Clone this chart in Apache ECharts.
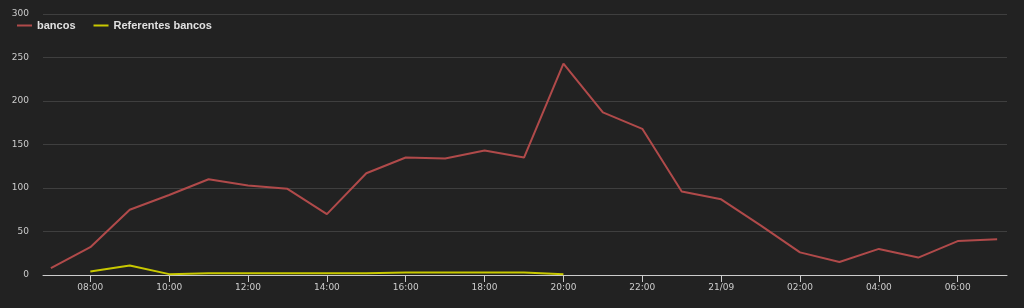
<!DOCTYPE html>
<html>
<head>
<meta charset="utf-8">
<script src="https://cdn.jsdelivr.net/npm/echarts@6/dist/echarts.min.js"></script>
<style>
html,body{margin:0;padding:0;background:#222222;}
#chart{width:1024px;height:308px;}
</style>
</head>
<body>
<div id="chart"></div>
<script>
// Hours since 20/09 00:00 (07:00 on 20/09 through 07:00 on 21/09)
const hours = [7,8,9,10,11,12,13,14,15,16,17,18,19,20,21,22,23,24,25,26,27,28,29,30,31];
const bancos = [8,32,75,92,110,103,99,70,117,135,134,143,135,243,187,168,96,87,57,26,15,30,20,39,41];
const refHours = [8,9,10,11,12,13,14,15,16,17,18,19,20];
const referentes = [4,11,1,2,2,2,2,2,3,3,3,3,1];
const tickHours = [8,10,12,14,16,18,20,22,24,26,28,30];
const tickLabels = ['08:00','10:00','12:00','14:00','16:00','18:00','20:00','22:00','21/09','02:00','04:00','06:00'];
const yTicks = [0,50,100,150,200,250,300];

const chart = echarts.init(document.getElementById('chart'), null, {renderer:'canvas'});
chart.setOption({
  backgroundColor:'#222222',
  animation:false,
  grid:{left:43, right:17, top:14, bottom:33},
  legend:{
    left:12, top:15, itemWidth:15, itemHeight:2, itemGap:18, icon:'rect',
    textStyle:{color:'#e0e0e0', fontWeight:'bold', fontSize:11, fontFamily:'Liberation Sans'},
    data:['bancos','Referentes bancos']
  },
  xAxis:{
    type:'value',
    min:6.8, max:31.25,
    minInterval:2, maxInterval:2,
    axisLine:{show:true, onZero:false, lineStyle:{color:'#cccccc', width:1}},
    axisTick:{show:true, length:7, lineStyle:{color:'#cccccc'}},
    splitLine:{show:false},
    axisLabel:{
      color:'#cccccc', fontSize:9, fontFamily:'DejaVu Sans', margin:8,
      showMinLabel:false, showMaxLabel:false,
      formatter:function(v){
        const i = tickHours.indexOf(v);
        return i>=0 ? tickLabels[i] : '';
      }
    }
  },
  yAxis:{
    type:'value', min:yTicks[0], max:yTicks[yTicks.length-1], interval:50,
    axisLine:{show:false}, axisTick:{show:false},
    axisLabel:{color:'#cccccc', fontSize:9, fontFamily:'DejaVu Sans', margin:14},
    splitLine:{lineStyle:{color:'#3f3f3f', width:1}}
  },
  series:[
    {
      name:'bancos', type:'line', symbol:'none', smooth:false,
      lineStyle:{color:'#b04a4a', width:2}, itemStyle:{color:'#b04a4a'},
      data:hours.map((h,i)=>[h, bancos[i]])
    },
    {
      name:'Referentes bancos', type:'line', symbol:'none', smooth:false,
      lineStyle:{color:'#c8c800', width:2}, itemStyle:{color:'#c8c800'},
      data:refHours.map((h,i)=>[h, referentes[i]])
    }
  ]
});
</script>
</body>
</html>
